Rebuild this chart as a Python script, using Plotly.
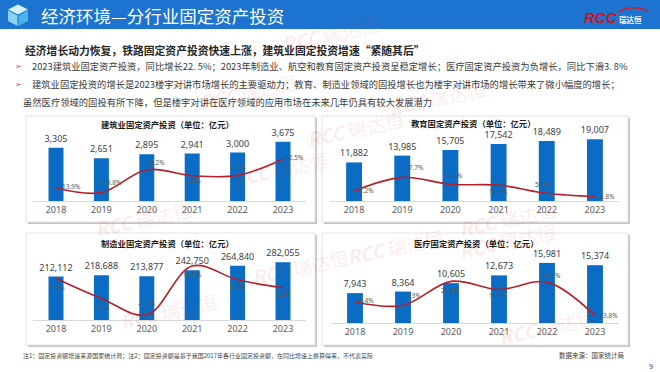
import plotly.graph_objects as go

# ---------------- data ----------------
years = ["2018", "2019", "2020", "2021", "2022", "2023"]
panel_titles = ["建筑业固定资产投资（单位：亿元）", "教育固定资产投资（单位：亿元）",
                "制造业固定资产投资（单位：亿元）", "医疗固定资产投资（单位：亿元）"]
construction = [3305, 2651, 2895, 2941, 3000, 3675]
construction_growth = [-13.9, -19.8, 9.2, 1.6, 2.0, 22.5]
education = [11882, 13985, 15705, 17542, 18489, 19007]
education_growth = [7.2, 17.7, 12.3, 11.7, 5.4, 2.8]
manufacturing = [212112, 218688, 213877, 242750, 264840, 282055]
manufacturing_growth = [9.5, 3.1, -2.2, 13.5, 9.1, 6.5]
medical = [7943, 8364, 10605, 12673, 15981, 15374]
medical_growth = [8.4, 5.3, 26.8, 19.5, 26.1, -3.8]

title_main = "经济环境—分行业固定资产投资"
subtitle = "经济增长动力恢复，铁路固定资产投资快速上涨，建筑业固定投资增速“紧随其后”"
bullet1 = "2023建筑业固定资产投资，同比增长22. 5%；2023年制造业、航空和教育固定资产投资呈稳定增长；医疗固定资产投资为负增长，同比下滑3. 8%"
bullet2 = "建筑业固定投资的增长是2023楼宇对讲市场增长的主要驱动力；教育、制造业领域的固投增长也为楼宇对讲市场的增长带来了微小幅度的增长；"
bullet3 = "虽然医疗领域的固投有所下降，但是楼宇对讲在医疗领域的应用市场在未来几年仍具有较大发展潜力"
footnote = "注1：固定投资额增速来源国家统计局；注2：固定投资额是基于我国2017年各行业固定投资额，在同比增速上换算得来，不代表实际"
source = "数据来源：国家统计局"

# ---------------- layout helpers ----------------
W, H = 660, 372
def px(x): return x / W
def py(y): return 1 - y / H

FONT = "Noto Sans, Noto Sans CJK SC, sans-serif"
CJK = "Noto Sans CJK SC, sans-serif"
BLUE = "#0a6cc4"
RED = "#b3202a"

# label offsets (dx right, dy down) in pixels relative to each growth point
panels = [
    dict(vals=construction, growth=construction_growth, x=(33.3, 305.7), y=(133, 201),
         br=[0, 4216], lr=[-30.4, 55.7],
         off=[(14, -1), (10, -10), (11, -7), (1, 5), (1, -8), (11, -2)],
         box=(26, 116, 315, 222), title_xy=(168, 124)),
    dict(vals=education, growth=education_growth, x=(330, 619), y=(133, 201),
         br=[0, 20944], lr=[-0.5, 51.8],
         off=[(12, 0), (12, -10), (3, -9), (0, 6), (-4, -9), (13, 0)],
         box=(322, 116, 628, 222), title_xy=(473, 122.5)),
    dict(vals=manufacturing, growth=manufacturing_growth, x=(33.3, 305.7), y=(252, 320),
         br=[0, 332400], lr=[-3.81, 17.98],
         off=[(1, 9), (0, 9), (0, -11), (0, 9), (0, 7), (0, 7)],
         box=(26, 233, 315, 345), title_xy=(168, 243)),
    dict(vals=medical, growth=medical_growth, x=(331, 619), y=(252, 323),
         br=[0, 18886], lr=[-10.4, 53.0],
         off=[(12, -1), (11, -10), (0, 9), (0, 6), (4, -7), (14, 0)],
         box=(322, 233, 628, 345), title_xy=(476, 243)),
]

fig = go.Figure()
layout = dict(width=W, height=H, margin=dict(l=0, r=0, t=0, b=0),
              paper_bgcolor="white", plot_bgcolor="rgba(0,0,0,0)",
              showlegend=False, font=dict(family=FONT))
shapes, annotations = [], []

for i, p in enumerate(panels):
    n = i + 1
    xa = "x" if n == 1 else f"x{n}"
    ya = "y" if n == 1 else f"y{n}"
    ya2 = f"y{n + 4}"
    fig.add_trace(go.Bar(x=years, y=p["vals"], xaxis=xa, yaxis=ya, width=0.33,
                         marker=dict(color=BLUE, line=dict(width=0)),
                         texttemplate="%{y:,}", textposition="outside", cliponaxis=False,
                         constraintext="none",
                         textfont=dict(size=9, color="#404040", family=FONT)))
    fig.add_trace(go.Scatter(x=years, y=p["growth"], xaxis=xa, yaxis=ya2, mode="lines",
                             line=dict(color=RED, width=1.6, shape="spline", smoothing=1),
                             cliponaxis=False))
    for j, (g, (dx, dy)) in enumerate(zip(p["growth"], p["off"])):
        annotations.append(dict(text=f"{g:.1f}%", x=j, y=g, xref=xa, yref=ya2,
                                xshift=dx, yshift=-dy, showarrow=False,
                                xanchor="center", yanchor="middle",
                                font=dict(size=6.5, color="#595959", family=FONT)))
    xkey = "xaxis" if n == 1 else f"xaxis{n}"
    ykey = "yaxis" if n == 1 else f"yaxis{n}"
    layout[xkey] = dict(domain=[px(p["x"][0]), px(p["x"][1])], anchor=ya, type="category",
                        range=[-0.5, len(years) - 0.5],
                        showline=True, linecolor="#d9d9d9", linewidth=1, ticks="",
                        showgrid=False, zeroline=False,
                        tickfont=dict(size=9, color="#595959", family=FONT))
    layout[ykey] = dict(domain=[py(p["y"][1]), py(p["y"][0])], anchor=xa, range=p["br"],
                        visible=False, showgrid=False, zeroline=False)
    layout[f"yaxis{n + 4}"] = dict(domain=[py(p["y"][1]), py(p["y"][0])], anchor=xa,
                                   overlaying=ya, range=p["lr"], visible=False,
                                   showgrid=False, zeroline=False)
    x0, y0, x1, y1 = p["box"]
    shapes.append(dict(type="rect", xref="paper", yref="paper", x0=px(x0 + 2), x1=px(x1 + 2),
                       y0=py(y1 + 2), y1=py(y0 + 2), fillcolor="#c4c4c4", line=dict(width=0),
                       layer="below"))
    shapes.append(dict(type="rect", xref="paper", yref="paper", x0=px(x0), x1=px(x1),
                       y0=py(y1), y1=py(y0), fillcolor="white", line=dict(color="#e2e2e2", width=1),
                       layer="below"))
    annotations.append(dict(text="<b>" + panel_titles[i] + "</b>", x=px(p["title_xy"][0]),
                            y=py(p["title_xy"][1]), xref="paper", yref="paper", showarrow=False,
                            xanchor="center", yanchor="middle",
                            font=dict(size=8.3, color="#1a1a1a", family=CJK)))

# header
shapes.append(dict(type="rect", xref="paper", yref="paper", x0=0, x1=1, y0=py(29), y1=1,
                   fillcolor="#1c74d0", line=dict(width=0), layer="below"))
def path(pts):
    return "M " + " L ".join(f"{px(a):.5f},{py(b):.5f}" for a, b in pts) + " Z"
shapes.append(dict(type="path", xref="paper", yref="paper",
                   path=path([(18, 4.5), (28, 9.5), (18, 14.5), (8, 9.5)]),
                   fillcolor="#d6f0fc", line=dict(width=0)))
shapes.append(dict(type="path", xref="paper", yref="paper",
                   path=path([(8, 10.5), (17.5, 15.5), (17.5, 26), (8, 21)]),
                   fillcolor="#8ad2f4", line=dict(width=0)))
shapes.append(dict(type="path", xref="paper", yref="paper",
                   path=path([(18.5, 15.5), (28, 10.5), (28, 21), (18.5, 26)]),
                   fillcolor="#4db2ea", line=dict(width=0)))
# logo swoosh
shapes.append(dict(type="path", xref="paper", yref="paper",
                   path=f"M {px(618):.5f},{py(12):.5f} Q {px(632):.5f},{py(4):.5f} {px(648):.5f},{py(11):.5f}",
                   line=dict(color="#d11f26", width=1.5)))

annotations += [
    dict(text=title_main, x=px(39), y=py(15.5), xanchor="left", yanchor="middle",
         font=dict(size=17.5, color="white", family=CJK)),
    dict(text="<b><i>RCC</i></b>", x=px(582), y=py(17.5), xanchor="left", yanchor="middle",
         font=dict(size=15, color="#c8161e", family="Liberation Sans, Arial")),
    dict(text="<b>瑞达恒</b>", x=px(617), y=py(19.5), xanchor="left", yanchor="middle",
         font=dict(size=7.5, color="white", family=CJK)),
    dict(text="<b>" + subtitle + "</b>", x=px(23), y=py(50), xanchor="left", yanchor="middle",
         font=dict(size=10.8, color="#262626", family=CJK)),
    dict(text="➢", x=px(13), y=py(66), xanchor="left", yanchor="middle",
         font=dict(size=8, color="#e8542b", family="DejaVu Sans")),
    dict(text=bullet1, x=px(30), y=py(66), xanchor="left", yanchor="middle",
         font=dict(size=9.3, color="#3a3a3a", family=CJK)),
    dict(text="➢", x=px(13), y=py(84), xanchor="left", yanchor="middle",
         font=dict(size=8, color="#e8542b", family="DejaVu Sans")),
    dict(text=bullet2, x=px(30), y=py(84), xanchor="left", yanchor="middle",
         font=dict(size=9.3, color="#3a3a3a", family=CJK)),
    dict(text=bullet3, x=px(21), y=py(102), xanchor="left", yanchor="middle",
         font=dict(size=9.3, color="#3a3a3a", family=CJK)),
    dict(text=footnote, x=px(21), y=py(355), xanchor="left", yanchor="middle",
         font=dict(size=6, color="#404040", family=CJK)),
    dict(text=source, x=px(626), y=py(355), xanchor="right", yanchor="middle",
         font=dict(size=6.5, color="#404040", family=CJK)),
    dict(text="9", x=px(655), y=py(366), xanchor="right", yanchor="middle",
         font=dict(size=7, color="#404040", family=FONT)),
]
for a in annotations:
    a.setdefault("xref", "paper"); a.setdefault("yref", "paper"); a.setdefault("showarrow", False)

# faint watermarks
for wx, wy in [(195, 66), (490, 72), (280, 168), (90, 218), (355, 128), (560, 218),
               (115, 336), (300, 292), (395, 272), (560, 240), (600, 352), (330, 8)]:
    annotations.append(dict(text="<b><i>RCC</i></b> 瑞达恒", x=px(wx), y=py(wy), xref="paper",
                            yref="paper", showarrow=False, textangle=-12,
                            font=dict(size=19, color="rgba(220,50,50,0.10)", family=CJK)))

layout["shapes"] = shapes
layout["annotations"] = annotations
fig.update_layout(**layout)
fig.write_html("out.html")
